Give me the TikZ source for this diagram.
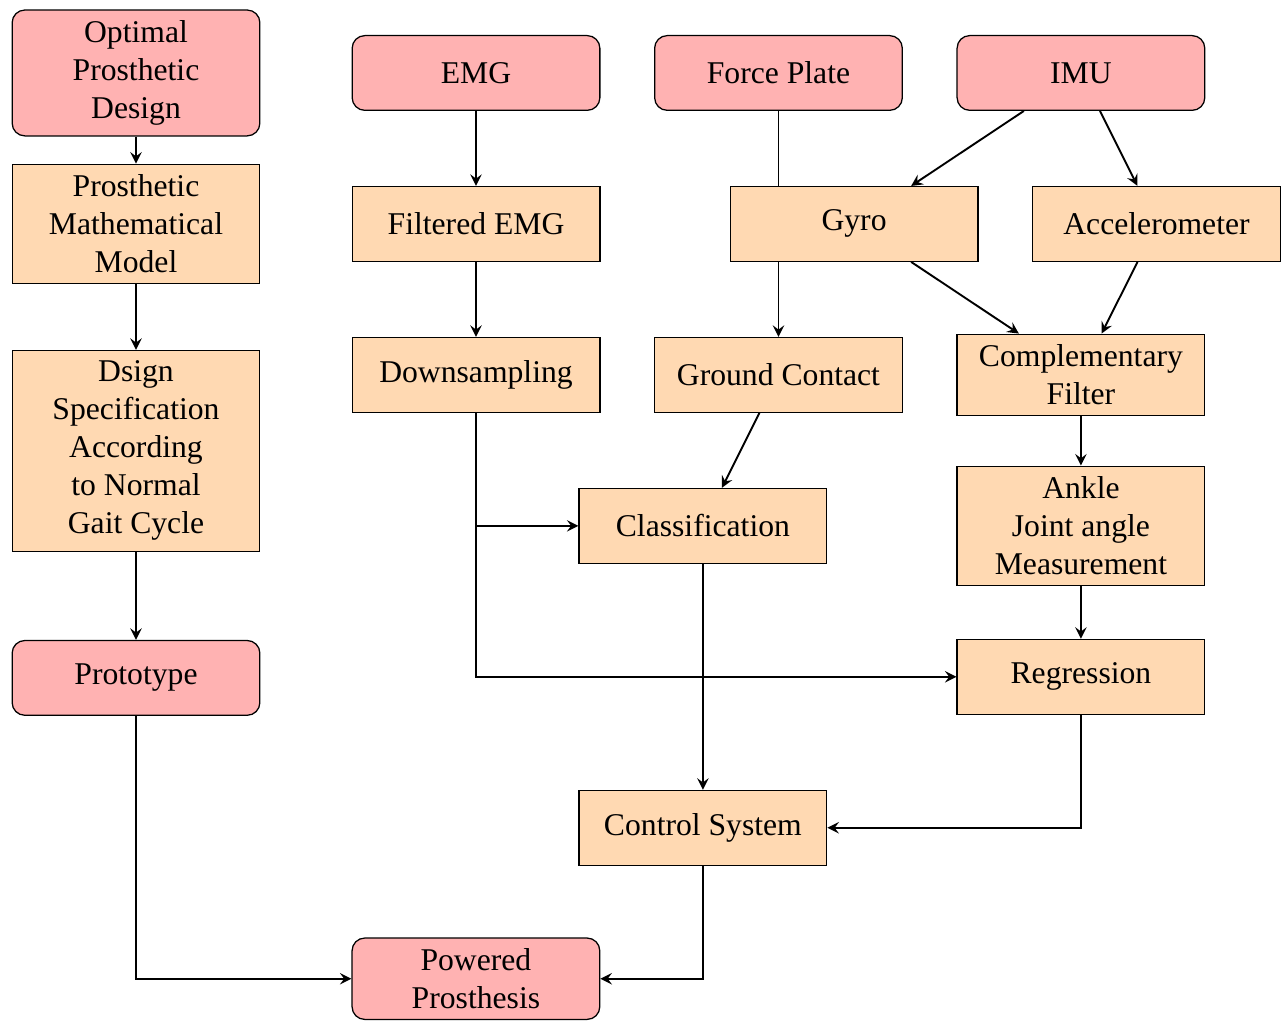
\documentclass[tikz,border=0pt]{standalone}
\usepackage{fontspec}
\setmainfont{Liberation Serif}
\usetikzlibrary{positioning, arrows}

\tikzset{
    terminal/.style={rectangle, rounded corners, draw=black, fill=red!30,
        minimum width=2.75cm, minimum height=0.83cm, align=center},
    process/.style={rectangle, draw=black, fill=orange!30,
        minimum width=2.75cm, minimum height=0.83cm, align=center},
    flow/.style={semithick, ->, >=stealth}
}

\begin{document}
\begin{tikzpicture}[node distance=1.676cm and 3.358cm, on grid]
            \useasboundingbox (-5.285,0.81) rectangle (9.015,-10.525);
            % sensors
            \node[terminal] (emg) at (0,0) {EMG};
            \node[terminal, right=of emg] (fp) {Force Plate};
            \node[terminal, right=of fp] (imu) {IMU};
            \node[process, below=of emg] (femg) {Filtered EMG};
            \node[process, below right=1.676cm and 0.839cm of fp] (gyro) {Gyro};
            \node[process, below right=1.676cm and 0.839cm of imu] (acc) {Accelerometer};
            \node[process, below=of femg] (down) {Downsampling};
            \node[process, below left=1.676cm and 0.839cm of gyro] (gc) {Ground Contact};
            \node[process, below left=1.676cm and 0.839cm of acc] (comp) {Complementary\\Filter};
            \node[process, below left=1.676cm and 0.839cm of gc] (cls) {Classification};
            \node[process, below=of comp] (ank) {Ankle\\Joint angle\\Measurement};
            \node[process, below=of ank] (reg) {Regression};
            \node[process, below=3.352cm of cls] (ctrl) {Control System};
            \node[terminal, below left=1.676cm and 2.52cm of ctrl] (pp) {Powered\\Prosthesis};
            % design
            \node[terminal, left=3.775cm of emg] (opt) {Optimal\\Prosthetic\\Design};
            \node[process, below=of opt] (model) {Prosthetic\\Mathematical\\Model};
            \node[process, below=2.52cm of model] (dsign) {Dsign\\Specification\\According\\to Normal\\Gait Cycle};
            \node[terminal, below=2.52cm of dsign] (proto) {Prototype};

            \draw[flow] (opt) -- (model);
            \draw[flow] (model) -- (dsign);
            \draw[flow] (dsign) -- (proto);
            \draw[flow] (proto) |- (pp);
            \draw[flow] (emg) -- (femg);
            \draw[flow] (femg) -- (down);
            \draw[flow] (down) |- (cls);
            \draw[flow] (down) |- (reg);
            \draw[semithick] (fp) -- (gyro.north -| fp);
            \draw[flow] (gyro.south -| fp) -- (gc);
            \draw[flow] (imu) -- (gyro);
            \draw[flow] (imu) -- (acc);
            \draw[flow] (gyro) -- (comp);
            \draw[flow] (acc) -- (comp);
            \draw[flow] (comp) -- (ank);
            \draw[flow] (ank) -- (reg);
            \draw[flow] (gc) -- (cls);
            \draw[flow] (cls) -- (ctrl);
            \draw[flow] (reg) |- (ctrl);
            \draw[flow] (ctrl) |- (pp);
\end{tikzpicture}
\end{document}
